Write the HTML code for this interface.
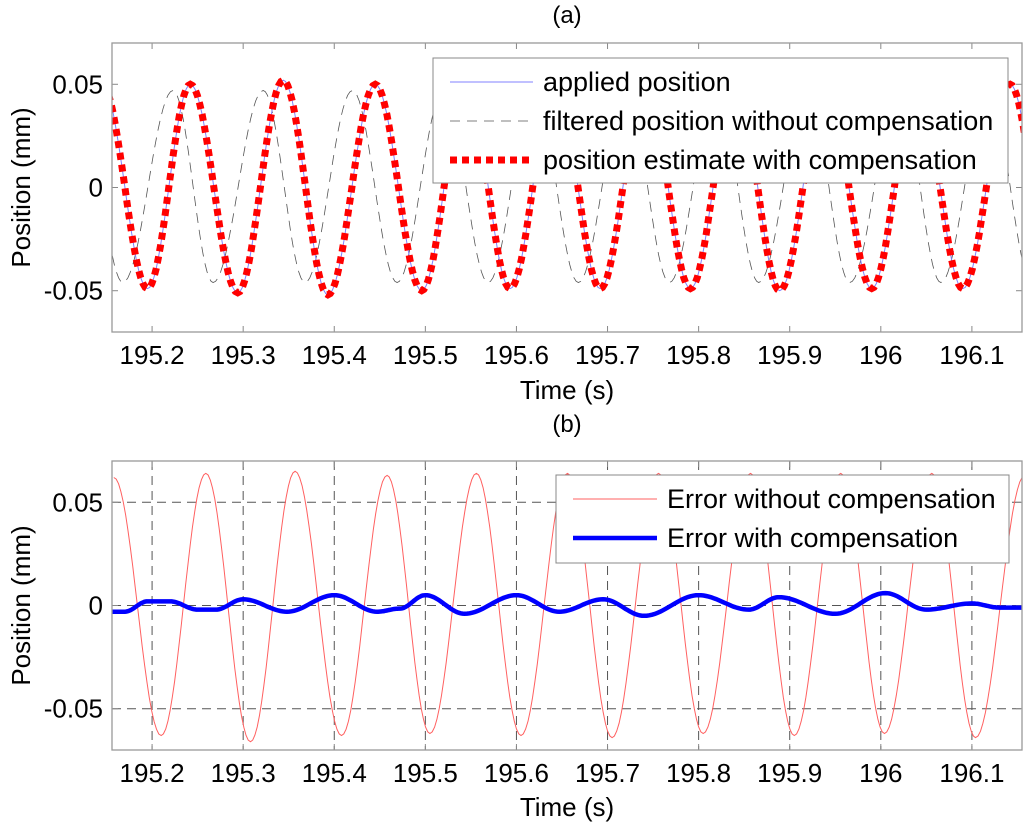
<!DOCTYPE html>
<html><head><meta charset="utf-8"><style>
body{margin:0;background:#fff}
svg{display:block;font-family:"Liberation Sans",Arial,sans-serif}
</style></head><body>
<svg id="c" width="1024" height="823" viewBox="0 0 1024 823"></svg>
<script>
// ---- data (key extrema points: time, value) ----
const appliedT=[195.145,195.195,195.242,195.294,195.344,195.393,195.445,195.496,195.545,195.593,195.643,195.692,195.742,195.791,195.841,195.889,195.94,195.99,196.04,196.09,196.142,196.19];
const appliedV=[0.05,-0.049,0.05,-0.051,0.052,-0.052,0.05,-0.05,0.05,-0.049,0.05,-0.049,0.05,-0.049,0.05,-0.05,0.05,-0.049,0.05,-0.049,0.05,-0.049];
const filteredT=[195.12,195.168,195.223,195.267,195.322,195.368,195.42,195.469,195.52,195.569,195.62,195.668,195.72,195.768,195.82,195.866,195.92,195.966,196.02,196.066,196.118,196.166];
const filteredV=[0.047,-0.046,0.047,-0.046,0.047,-0.046,0.047,-0.046,0.047,-0.046,0.047,-0.046,0.047,-0.046,0.047,-0.046,0.047,-0.046,0.047,-0.046,0.047,-0.046];
const errRedT=[195.158,195.21,195.259,195.308,195.357,195.408,195.458,195.505,195.556,195.605,195.656,195.705,195.756,195.805,195.857,195.905,195.956,196.004,196.056,196.104,196.158];
const errRedV=[0.062,-0.063,0.064,-0.066,0.065,-0.063,0.063,-0.062,0.064,-0.063,0.064,-0.064,0.064,-0.062,0.064,-0.063,0.064,-0.062,0.064,-0.064,0.063];
const errBlueT=[195.156,195.17,195.195,195.22,195.25,195.27,195.3,195.348,195.4,195.447,195.472,195.5,195.543,195.6,195.647,195.695,195.74,195.8,195.855,195.888,195.95,196.005,196.05,196.1,196.13,196.156];
const errBlueV=[-0.003,-0.003,0.002,0.002,-0.002,-0.002,0.003,-0.003,0.005,-0.003,-0.0015,0.005,-0.004,0.005,-0.003,0.003,-0.005,0.005,-0.002,0.004,-0.004,0.006,-0.002,0.001,-0.001,-0.001];
const xTicks=[195.2,195.3,195.4,195.5,195.6,195.7,195.8,195.9,196,196.1];
const xTickLabels=["195.2","195.3","195.4","195.5","195.6","195.7","195.8","195.9","196","196.1"];
const yTicks=[0.05,0,-0.05];
const yTickLabels=["0.05","0","-0.05"];

const NS="http://www.w3.org/2000/svg";
const svg=document.getElementById('c');
function mk(tag,attrs,parent){const e=document.createElementNS(NS,tag);for(const k in attrs)e.setAttribute(k,attrs[k]);(parent||svg).appendChild(e);return e;}
const X0=195.156,X1=196.155,PL=112,PR=1022;
function xs(t){return PL+(t-X0)/(X1-X0)*(PR-PL);}
function makeY(top,bot){return v=>top+(0.07-v)/0.14*(bot-top);}
function curve(T,V){const pts=[];for(let i=0;i<T.length-1;i++){for(let k=0;k<20;k++){const f=k/20,w=(1-Math.cos(Math.PI*f))/2;pts.push([T[i]+(T[i+1]-T[i])*f,V[i]+(V[i+1]-V[i])*w]);}}pts.push([T[T.length-1],V[V.length-1]]);return pts;}

function axes(id,top,bot,grid,title,titleY,xtitleY){
  const ys=makeY(top,bot);
  const g=mk('g',{});
  
  
  const cp=mk('clipPath',{id:id+'clip'},g);mk('rect',{x:PL,y:top,width:PR-PL,height:bot-top},cp);
  if(grid){
    xTicks.forEach(t=>{const l=mk('line',{x1:xs(t),x2:xs(t),y1:top,y2:bot,stroke:'#555','stroke-width':1,'stroke-dasharray':'9 6'},g);});
    yTicks.forEach(v=>{const l=mk('line',{x1:PL,x2:PR,y1:ys(v),y2:ys(v),stroke:'#555','stroke-width':1,'stroke-dasharray':'9 6'},g);});
  }
  xTicks.forEach((t,i)=>{
    mk('line',{x1:xs(t),x2:xs(t),y1:bot,y2:bot-6,stroke:'#888'},g);
    mk('line',{x1:xs(t),x2:xs(t),y1:top,y2:top+6,stroke:'#888'},g);
    const tx=mk('text',{x:xs(t),y:bot+32,'font-size':26,'text-anchor':'middle',fill:'#000'},g);tx.textContent=xTickLabels[i];
    
    
  });
  yTicks.forEach((v,i)=>{
    mk('line',{x1:PL,x2:PL+6,y1:ys(v),y2:ys(v),stroke:'#888'},g);
    mk('line',{x1:PR,x2:PR-6,y1:ys(v),y2:ys(v),stroke:'#888'},g);
    const tx=mk('text',{x:103,y:ys(v)+9,'font-size':26,'text-anchor':'end',fill:'#000'},g);tx.textContent=yTickLabels[i];
    
    
  });
  const t1=mk('text',{x:567,y:titleY,'font-size':24,'text-anchor':'middle'},g);t1.textContent=title;
  
  
  const t2=mk('text',{x:567,y:xtitleY,'font-size':26,'text-anchor':'middle'},g);t2.textContent='Time (s)';
  
  
  const cy=(top+bot)/2;
  const t3=mk('text',{x:30,y:cy,'font-size':26,'text-anchor':'middle',transform:'rotate(-90 30 '+cy+')'},g);t3.textContent='Position (mm)';
  
  
  return {g,ys,clip:'url(#'+id+'clip)'};
}
function series(ax,T,V,attrs,name){
  const d=curve(T,V).map((p,i)=>(i?'L':'M')+xs(p[0]).toFixed(1)+' '+ax.ys(p[1]).toFixed(1)).join('');
  const a=Object.assign({d,fill:'none','clip-path':ax.clip},attrs);
  const p=mk('path',a,ax.g);
  
  
}
function box(ax,top,bot){const r=mk('rect',{x:PL,y:top,width:PR-PL,height:bot-top,fill:'none',stroke:'#999','stroke-width':1.3},ax.g);}

// (a)
const A=axes('a',43,332,false,'(a)',23,399);
series(A,filteredT,filteredV,{stroke:'#555','stroke-width':0.8,'stroke-dasharray':'10 7'},'filtered-position-line');
series(A,appliedT,appliedV,{stroke:'#8080ff','stroke-width':1},'applied-position-line');
series(A,appliedT,appliedV,{stroke:'#ff0000','stroke-width':7,'stroke-dasharray':'7 5'},'position-estimate-line');
box(A,43,332);
const LA=mk('g',{},A.g);


mk('rect',{x:433,y:58,width:575,height:125,fill:'#fff',stroke:'#888'},LA);
mk('line',{x1:450,x2:533,y1:82,y2:82,stroke:'#8080ff','stroke-width':1},LA);
mk('line',{x1:450,x2:533,y1:121,y2:121,stroke:'#555','stroke-width':0.8,'stroke-dasharray':'10 7'},LA);
mk('line',{x1:450,x2:533,y1:160,y2:160,stroke:'#ff0000','stroke-width':7,'stroke-dasharray':'7 5'},LA);
[['applied position',82],['filtered position without compensation',121],['position estimate with compensation',160]].forEach(e=>{const t=mk('text',{x:543,y:e[1]+9,'font-size':27},LA);t.textContent=e[0];});

// (b)
const B=axes('b',461,750,true,'(b)',432,816);
series(B,errRedT,errRedV,{stroke:'#ff6060','stroke-width':1},'error-without-compensation-line');
series(B,errBlueT,errBlueV,{stroke:'#0000ff','stroke-width':4.5},'error-with-compensation-line');
box(B,461,750);
const LB=mk('g',{},B.g);


mk('rect',{x:556,y:475,width:453,height:88,fill:'#fff',stroke:'#888'},LB);
mk('line',{x1:573,x2:657,y1:499,y2:499,stroke:'#ff6060','stroke-width':1},LB);
mk('line',{x1:573,x2:657,y1:538,y2:538,stroke:'#0000ff','stroke-width':4.5},LB);
[['Error without compensation',499],['Error with compensation',538]].forEach(e=>{const t=mk('text',{x:667,y:e[1]+9,'font-size':27},LB);t.textContent=e[0];});
</script>
</body></html>
